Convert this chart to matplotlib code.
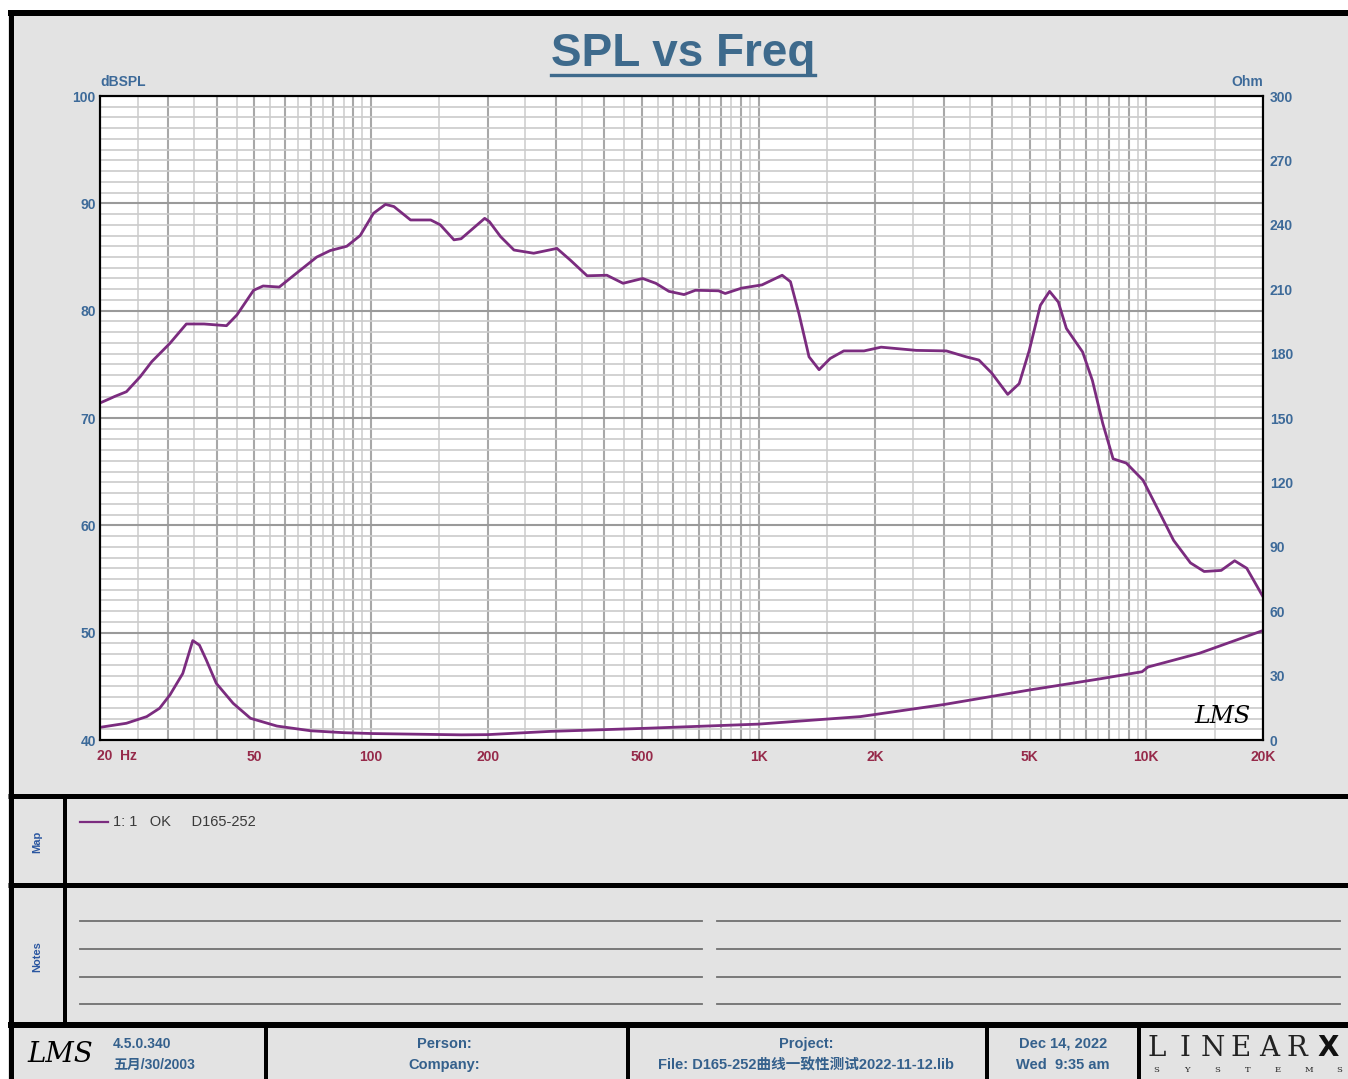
import numpy as np
import matplotlib.pyplot as plt
from matplotlib import font_manager
from matplotlib.ticker import FixedLocator, FuncFormatter, NullFormatter, MultipleLocator
from matplotlib.patches import Rectangle

# SPL curve (Hz, dBSPL)
spl_freq = [20, 21.2, 21.8, 23.4, 25.4, 27.2, 30.3, 33.4, 37.1, 42.4, 45.1, 49.8, 52.7, 58,
            64.3, 72.5, 78.5, 86.6, 93.8, 101.5, 109, 114.6, 126.5, 142.6, 150.9, 163.7, 170.8,
            196.5, 202, 215.9, 233.8, 262.9, 301.8, 327, 361, 406, 447, 502, 543, 587, 642, 687,
            788, 820, 904, 1020, 1150, 1208, 1270, 1349, 1432, 1530, 1658, 1870, 2070, 2550, 3050,
            3430, 3700, 3990, 4390, 4700, 4990, 5330, 5630, 5930, 6220, 6850, 7260, 7720, 8210,
            8880, 9810, 10850, 11760, 13000, 14100, 15600, 16900, 18160, 20000]
spl_db = [71.4, 71.8, 72.0, 72.45, 73.85, 75.25, 76.96, 78.76, 78.76, 78.6, 79.6, 81.9, 82.3, 82.2,
          83.5, 85.0, 85.6, 86.0, 87.0, 89.07, 89.9, 89.7, 88.45, 88.45, 88.0, 86.6, 86.7,
          88.6, 88.3, 86.9, 85.65, 85.35, 85.8, 84.7, 83.25, 83.3, 82.55, 83.0, 82.55, 81.8, 81.5, 81.9,
          81.85, 81.6, 82.1, 82.4, 83.3, 82.7, 79.75, 75.7, 74.5, 75.55, 76.25, 76.25, 76.6, 76.3, 76.25,
          75.7, 75.4, 74.2, 72.2, 73.2, 76.3, 80.5, 81.8, 80.8, 78.35, 76.15, 73.5, 69.5, 66.2,
          65.8, 64.2, 61.1, 58.6, 56.5, 55.7, 55.8, 56.7, 56.0, 53.35]

# impedance curve (Hz, Ohm)
imp_freq = [20, 23.4, 26.4, 28.5, 30.3, 32.7, 34.7, 36.1, 37.6, 39.9, 44.1, 48.9, 57.2, 69.9, 85.2,
            101, 171, 200, 289, 502, 1000, 1830, 3000, 5000, 7600, 9750, 10100, 13700, 20000]
imp_ohm = [5.9, 7.8, 10.9, 14.8, 21, 31, 46.3, 44.2, 37.3, 26.4, 17.1, 10.1, 6.5, 4.3, 3.4,
           3.0, 2.4, 2.5, 4.0, 5.4, 7.4, 10.9, 16.5, 23.3, 28.5, 31.8, 34.0, 40.4, 51]

x_tick_vals = [50, 100, 200, 500, 1000, 2000, 5000, 10000, 20000]
x_tick_text = ['50', '100', '200', '500', '1K', '2K', '5K', '10K', '20K']
db_ticks = [40, 50, 60, 70, 80, 90, 100]
ohm_ticks = [0, 30, 60, 90, 120, 150, 180, 210, 240, 270, 300]

W, H = 1348, 1079
PURPLE = '#7b2c7f'
BLUE = '#3d6a99'
MAROON = '#962a4a'
TXT = '#34608c'

names = {f.name for f in font_manager.fontManager.ttflist}
sans = 'Liberation Sans Narrow' if 'Liberation Sans Narrow' in names else 'Liberation Sans'
plt.rcParams['font.family'] = [sans, 'Noto Sans CJK SC', 'DejaVu Sans']
plt.rcParams['font.weight'] = 'bold'

fig = plt.figure(figsize=(W / 100, H / 100), dpi=100)
fig.patch.set_facecolor('white')

# background / frame drawn in pixel coords
bg = fig.add_axes([0, 0, 1, 1])
bg.set_xlim(0, W)
bg.set_ylim(H, 0)
bg.axis('off')
bg.set_zorder(0)
bg.add_patch(Rectangle((8, 10), W - 8, H - 10, color='#e3e3e3', lw=0))

def hline(y, x0, x1, w):
    bg.plot([x0, x1], [y, y], color='black', lw=w * 0.72, solid_capstyle='butt')

def vline(x, y0, y1, w):
    bg.plot([x, x], [y0, y1], color='black', lw=w * 0.72, solid_capstyle='butt')

hline(13, 8, W, 6)
vline(10.5, 10, H, 5)
hline(796, 8, W, 5)
hline(885, 8, W, 5)
hline(1025, 8, W, 6)
vline(65, 796, 1025, 4)
for xx in [266, 628, 987, 1139]:
    vline(xx, 1025, H, 4)

# notes lines
for yy in [921, 949, 977, 1004]:
    bg.plot([80, 702], [yy, yy], color='#707070', lw=1.3)
    bg.plot([717, 1340], [yy, yy], color='#707070', lw=1.3)

# title
bg.text(683, 66, 'SPL vs Freq', ha='center', va='baseline', fontsize=33,
        color='#3e6a8c', family=['Liberation Sans', 'DejaVu Sans'])
bg.plot([551, 815], [75, 75], color='#3e6a8c', lw=2.4)

bg.text(100, 89, 'dBSPL', ha='left', va='bottom', fontsize=10, color=BLUE)
bg.text(1263, 89, 'Ohm', ha='right', va='bottom', fontsize=10, color=BLUE)
bg.text(97, 756, '20  Hz', ha='left', va='center', fontsize=10, color=MAROON)

# map / notes
bg.plot([80, 108], [822, 822], color=PURPLE, lw=1.6)
bg.text(113, 822, '1: 1   OK     D165-252', ha='left', va='center', fontsize=10.5,
        color='#3a3a3a', fontweight='normal')
bg.text(37, 842, 'Map', rotation=90, ha='center', va='center', fontsize=8, color='#2a56a0')
bg.text(37, 957, 'Notes', rotation=90, ha='center', va='center', fontsize=8, color='#2a56a0')

# footer
bg.text(60, 1054, 'LMS', ha='center', va='center', fontsize=20, style='italic',
        fontweight='normal', family=['DejaVu Serif'], color='black')
bg.text(113, 1044, '4.5.0.340', ha='left', va='center', fontsize=10, color=TXT)
bg.text(113, 1065, '五月/30/2003', ha='left', va='center', fontsize=10, color=TXT)
bg.text(444, 1044, 'Person:', ha='center', va='center', fontsize=10.5, color=TXT)
bg.text(444, 1065, 'Company:', ha='center', va='center', fontsize=10.5, color=TXT)
bg.text(806, 1044, 'Project:', ha='center', va='center', fontsize=10.5, color=TXT)
bg.text(806, 1065, 'File: D165-252曲线一致性测试2022-11-12.lib', ha='center', va='center',
        fontsize=10.5, color=TXT)
bg.text(1063, 1044, 'Dec 14, 2022', ha='center', va='center', fontsize=10.5, color=TXT)
bg.text(1063, 1065, 'Wed  9:35 am', ha='center', va='center', fontsize=10.5, color=TXT)
for i, ch in enumerate('LINEAR'):
    bg.text(1157 + i * 28, 1048, ch, ha='center', va='center', fontsize=20,
            fontweight='normal', family=['DejaVu Serif'], color='#222222')
bg.text(1328, 1048, 'X', ha='center', va='center', fontsize=20, fontweight='bold',
        family=['DejaVu Sans'], color='#111111')
for i, ch in enumerate('SYSTEMS'):
    bg.text(1156 + i * 30.5, 1070, ch, ha='center', va='center', fontsize=6,
            fontweight='normal', family=['DejaVu Serif'], color='#222222')

# main plot
ax = fig.add_axes([100 / W, 1 - 740 / H, 1163 / W, 644 / H])
ax.set_zorder(2)
ax.set_facecolor('white')
ax.set_xscale('log')
ax.set_xlim(20, 20000)
ax.set_ylim(40, 100)

major_x = [m * 10 ** k for k in range(1, 5) for m in range(1, 10) if 20 <= m * 10 ** k <= 20000]
minor_x = [(m + 0.5) * 10 ** k for k in range(1, 5) for m in range(1, 10) if 20 <= (m + 0.5) * 10 ** k <= 20000]
ax.xaxis.set_major_locator(FixedLocator(major_x))
ax.xaxis.set_minor_locator(FixedLocator(minor_x))

def fmt_x(v, pos):
    for tv, tt in zip(x_tick_vals, x_tick_text):
        if np.isclose(v, tv):
            return tt
    return ''

ax.xaxis.set_major_formatter(FuncFormatter(fmt_x))
ax.xaxis.set_minor_formatter(NullFormatter())
ax.yaxis.set_major_locator(FixedLocator(db_ticks))
ax.yaxis.set_minor_locator(MultipleLocator(1))

ax.grid(which='major', axis='x', color='#a8a8a8', lw=1.5)
ax.grid(which='minor', axis='x', color='#cfcfcf', lw=1.2)
ax.grid(which='major', axis='y', color='#9a9a9a', lw=1.5)
ax.grid(which='minor', axis='y', color='#cbcbcb', lw=1.2)
ax.set_axisbelow(True)

ax.tick_params(axis='x', which='both', length=0, pad=7, labelsize=10, labelcolor=MAROON)
ax.tick_params(axis='y', which='both', length=0, pad=3, labelsize=10, labelcolor=BLUE)
for s in ax.spines.values():
    s.set_color('black')
    s.set_linewidth(1.5)

ax.plot(spl_freq, spl_db, color=PURPLE, lw=2.0, zorder=5)

ax2 = ax.twinx()
ax2.set_zorder(3)
ax2.patch.set_visible(False)
ax2.set_ylim(0, 300)
ax2.yaxis.set_major_locator(FixedLocator(ohm_ticks))
ax2.tick_params(axis='y', length=0, pad=5, labelsize=10, labelcolor=BLUE)
for s in ax2.spines.values():
    s.set_color('black')
    s.set_linewidth(1.5)
ax2.plot(imp_freq, imp_ohm, color=PURPLE, lw=2.0)

ax.text(0.965, 0.037, 'LMS', transform=ax.transAxes, ha='center', va='center', fontsize=17,
        style='italic', fontweight='normal', family=['DejaVu Serif'], color='black', zorder=6)

fig.savefig('out.png', dpi=100)
